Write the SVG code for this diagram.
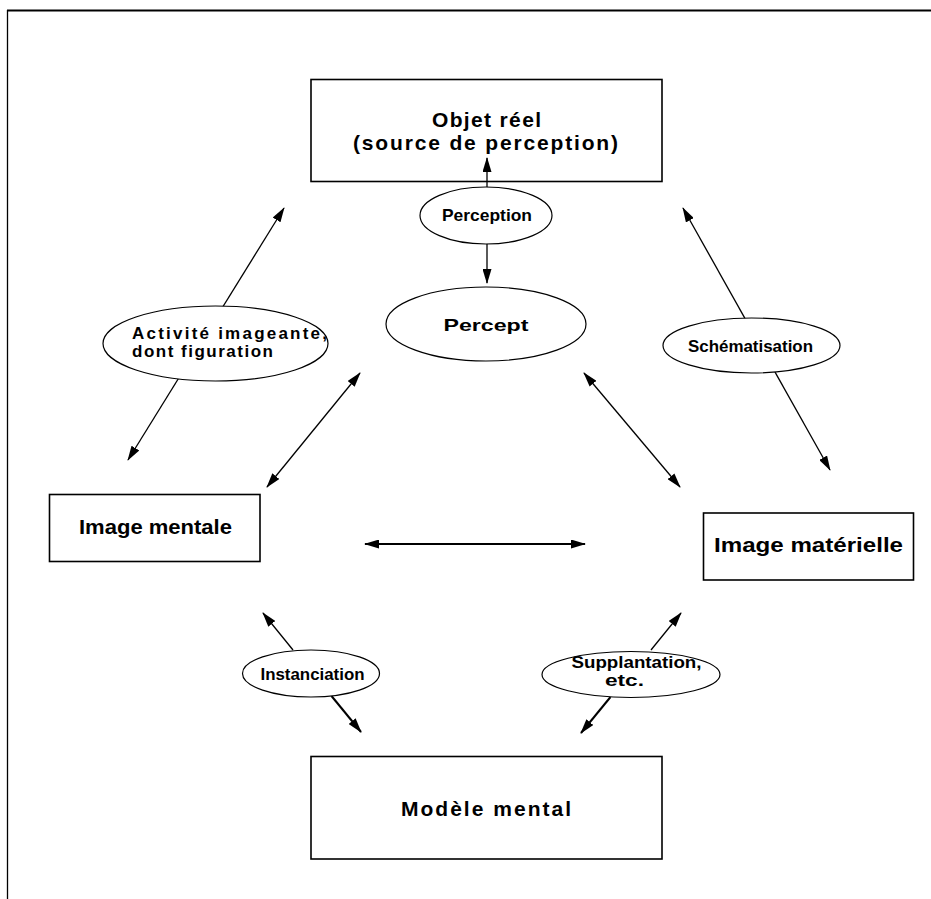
<svg xmlns="http://www.w3.org/2000/svg" width="931" height="899" viewBox="0 0 931 899">
  <defs>
    <marker id="arrow" markerUnits="userSpaceOnUse" markerWidth="15" markerHeight="9" refX="14" refY="4.5" orient="auto-start-reverse">
      <path d="M0,0 L15,4.5 L0,9 Z" fill="#000"/>
    </marker>
    <style>
      .box { fill: #fff; stroke: #000; stroke-width: 1.6; }
      .oval { fill: #fff; stroke: #000; stroke-width: 1.2; }
      .link { fill: none; stroke: #000; stroke-width: 1.3; }
      .bold { stroke-width: 2; }
      .frame { fill: none; stroke: #000; }
      .btxt { font-family: "Liberation Sans", Arial, sans-serif; font-weight: bold; font-size: 21px; fill: #000; text-anchor: middle; }
      .ltxt { font-family: "Liberation Sans", Arial, sans-serif; font-weight: bold; font-size: 17px; fill: #000; }
    </style>
  </defs>

  <rect width="931" height="899" fill="#fff"/>

  <!-- page frame -->
  <g id="frame">
    <line class="frame" x1="7" y1="10.5" x2="931" y2="10.5" stroke-width="2"/>
    <line class="frame" x1="7.5" y1="10" x2="7.5" y2="899" stroke-width="1.3"/>
  </g>

  <!-- boxes -->
  <g id="objet-reel">
    <rect class="box" x="311" y="79.5" width="351" height="102"/>
    <text class="btxt" x="486.5" y="127" textLength="109" lengthAdjust="spacing">Objet réel</text>
    <text class="btxt" x="485.5" y="150" textLength="265" lengthAdjust="spacing">(source de perception)</text>
  </g>

  <g id="image-mentale">
    <rect class="box" x="49.5" y="494.5" width="210.5" height="67"/>
    <text class="btxt" x="155.5" y="534" textLength="153" lengthAdjust="spacingAndGlyphs">Image mentale</text>
  </g>

  <g id="image-materielle">
    <rect class="box" x="703.5" y="513" width="210" height="67"/>
    <text class="btxt" x="808.5" y="552" font-size="23" textLength="189" lengthAdjust="spacingAndGlyphs">Image matérielle</text>
  </g>

  <g id="modele-mental">
    <rect class="box" x="311" y="756.5" width="351" height="102.5"/>
    <text class="btxt" x="486" y="816" textLength="170" lengthAdjust="spacing">Modèle mental</text>
  </g>

  <g id="percept">
    <ellipse class="oval" cx="486" cy="324" rx="100" ry="37"/>
    <text class="ltxt" x="486" y="331" font-size="20" text-anchor="middle" textLength="85" lengthAdjust="spacingAndGlyphs">Percept</text>
  </g>

  <!-- connectors with their labels -->
  <g id="connectors">
    <line class="link" x1="487" y1="158" x2="487" y2="283" marker-start="url(#arrow)" marker-end="url(#arrow)"/>
    <line class="link" x1="284" y1="208" x2="128" y2="460" marker-start="url(#arrow)" marker-end="url(#arrow)"/>
    <line class="link" x1="683" y1="208" x2="830" y2="470" marker-start="url(#arrow)" marker-end="url(#arrow)"/>
    <line class="link" x1="360" y1="373" x2="267" y2="487" marker-start="url(#arrow)" marker-end="url(#arrow)"/>
    <line class="link" x1="584" y1="373" x2="680" y2="487" marker-start="url(#arrow)" marker-end="url(#arrow)"/>
    <line class="link bold" x1="365" y1="544" x2="585" y2="544" marker-start="url(#arrow)" marker-end="url(#arrow)"/>
    <line class="link" x1="293" y1="650" x2="263" y2="613" marker-end="url(#arrow)"/>
    <line class="link bold" x1="331.5" y1="696" x2="361" y2="732" marker-end="url(#arrow)"/>
    <line class="link" x1="651" y1="650" x2="681" y2="613" marker-end="url(#arrow)"/>
    <line class="link bold" x1="610.5" y1="697" x2="581" y2="733" marker-end="url(#arrow)"/>

    <g id="label-perception">
      <ellipse class="oval" cx="486" cy="215.5" rx="66" ry="28.5"/>
      <text class="ltxt" x="487" y="221" font-size="18" text-anchor="middle" textLength="90" lengthAdjust="spacingAndGlyphs">Perception</text>
    </g>
    <g id="label-activite">
      <ellipse class="oval" cx="215.5" cy="343.5" rx="112.5" ry="37.5"/>
      <text class="ltxt" x="132" y="339" font-size="16" textLength="195" lengthAdjust="spacing">Activité imageante,</text>
      <text class="ltxt" x="132" y="357" font-size="16" textLength="141" lengthAdjust="spacing">dont figuration</text>
    </g>
    <g id="label-schematisation">
      <ellipse class="oval" cx="751.5" cy="345.5" rx="88.5" ry="27.5"/>
      <text class="ltxt" x="750.5" y="352" font-size="18" text-anchor="middle" textLength="125" lengthAdjust="spacingAndGlyphs">Schématisation</text>
    </g>
    <g id="label-instanciation">
      <ellipse class="oval" cx="311" cy="673.5" rx="68.5" ry="23.5"/>
      <text class="ltxt" x="312.5" y="679.5" text-anchor="middle" textLength="104" lengthAdjust="spacingAndGlyphs">Instanciation</text>
    </g>
    <g id="label-supplantation">
      <ellipse class="oval" cx="631" cy="674.5" rx="89" ry="23"/>
      <text class="ltxt" x="636.5" y="668" font-size="16" text-anchor="middle" textLength="130" lengthAdjust="spacingAndGlyphs">Supplantation,</text>
      <text class="ltxt" x="624.5" y="686" font-size="16" text-anchor="middle" textLength="39" lengthAdjust="spacingAndGlyphs">etc.</text>
    </g>
  </g>
</svg>
